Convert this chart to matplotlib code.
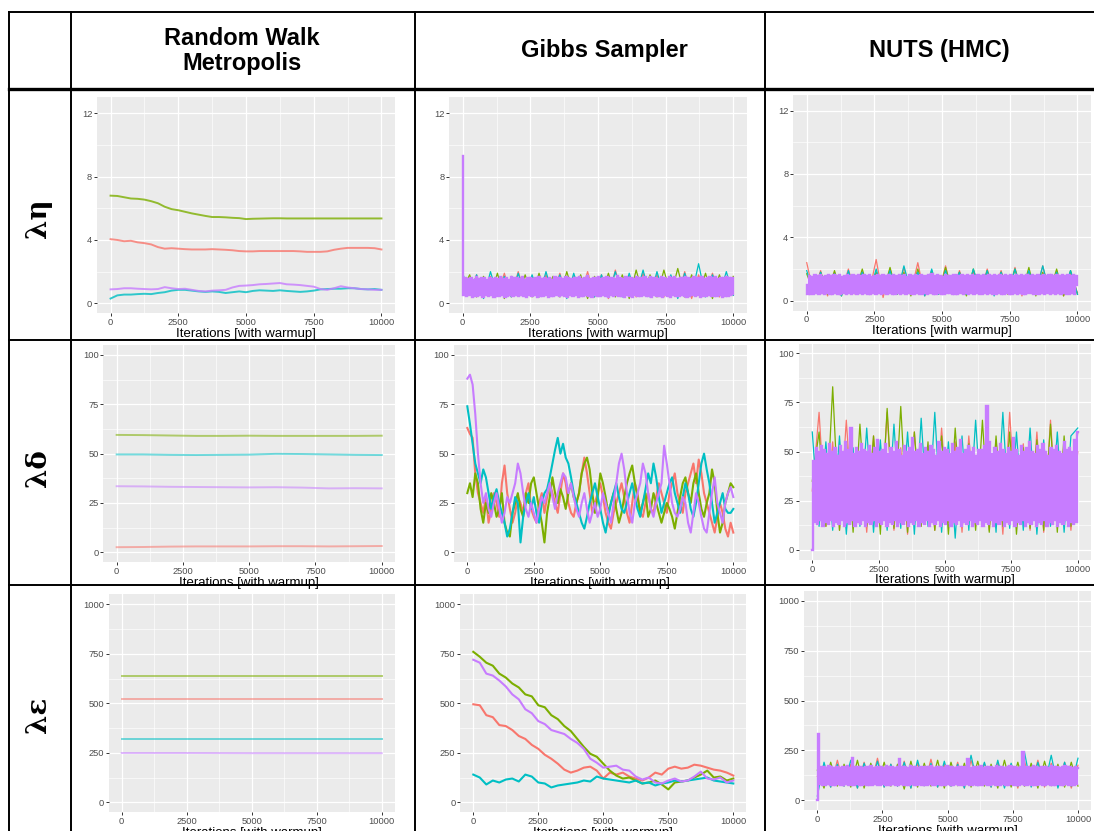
import numpy as np
import matplotlib.pyplot as plt
from matplotlib.lines import Line2D
from matplotlib.ticker import FixedLocator

plt.rcParams["font.family"] = ["Liberation Sans", "DejaVu Sans"]

# ===========================
# data
# ===========================
methods = ["Random Walk\nMetropolis", "Gibbs Sampler", "NUTS (HMC)"]
params = ["λη", "λδ", "λε"]
chain_colors = ["#F8766D", "#7CAE00", "#00BFC4", "#C77CFF"]
x_ticks = [0, 2500, 5000, 7500, 10000]
y_ticks = [[0, 4, 8, 12], [0, 25, 50, 75, 100], [0, 250, 500, 750, 1000]]
y_limits = [(-0.62, 13.02), (-5, 105), (-50, 1050)]

# --- lambda_eta, random walk metropolis (every 250 iterations)
rwm_eta_red = [4.05, 4.0, 3.92, 3.95, 3.85, 3.8, 3.72, 3.55, 3.45, 3.48, 3.45, 3.42, 3.4, 3.4,
               3.4, 3.42, 3.4, 3.38, 3.35, 3.3, 3.28, 3.28, 3.3, 3.3, 3.3, 3.3, 3.3, 3.3, 3.28,
               3.25, 3.25, 3.25, 3.28, 3.38, 3.45, 3.5, 3.5, 3.5, 3.5, 3.48, 3.4]
rwm_eta_green = [6.8, 6.78, 6.7, 6.62, 6.6, 6.55, 6.45, 6.32, 6.1, 5.95, 5.88, 5.78, 5.68, 5.6,
                 5.52, 5.45, 5.45, 5.43, 5.4, 5.38, 5.32, 5.34, 5.35, 5.36, 5.37, 5.37, 5.36,
                 5.36, 5.36, 5.36, 5.36, 5.36, 5.36, 5.36, 5.36, 5.36, 5.36, 5.36, 5.36, 5.36, 5.36]
rwm_eta_cyan = [0.3, 0.5, 0.55, 0.55, 0.58, 0.6, 0.58, 0.65, 0.7, 0.8, 0.85, 0.85, 0.8, 0.75,
                0.72, 0.75, 0.72, 0.65, 0.7, 0.75, 0.7, 0.78, 0.82, 0.8, 0.78, 0.82, 0.78, 0.75,
                0.72, 0.75, 0.8, 0.88, 0.9, 0.92, 0.92, 0.95, 0.95, 0.9, 0.88, 0.9, 0.85]
rwm_eta_purple = [0.88, 0.9, 0.95, 0.95, 0.92, 0.9, 0.88, 0.9, 1.02, 0.95, 0.9, 0.92, 0.85, 0.78,
                  0.75, 0.8, 0.82, 0.85, 1.0, 1.1, 1.12, 1.15, 1.2, 1.22, 1.25, 1.28, 1.2, 1.18,
                  1.15, 1.1, 1.05, 0.9, 0.85, 0.95, 1.08, 1.0, 0.95, 0.9, 0.88, 0.85, 0.85]

# --- lambda_eta, gibbs
gibbs_eta_red = [1.3, 0.5, 1.8, 0.4, 1.7, 0.5, 1.9, 0.4, 2.0, 0.5, 1.7, 0.4, 1.8, 0.5, 1.9, 0.4,
                 1.7, 0.5, 2.0, 0.4, 1.8, 0.3, 2.1, 0.5, 1.7, 0.4, 1.9, 0.5, 1.8, 0.4, 1.7, 0.5,
                 2.0, 0.3, 1.8, 0.5, 1.9, 0.4, 1.7, 0.5]
gibbs_eta_green = [0.9, 1.8, 0.4, 1.7, 0.5, 1.9, 0.3, 1.7, 0.5, 1.8, 0.4, 1.9, 0.5, 1.7, 0.4, 2.0,
                   0.5, 1.8, 0.3, 1.7, 0.5, 1.9, 0.4, 1.8, 0.3, 2.1, 0.5, 1.8, 0.4, 2.1, 0.5, 2.2,
                   0.4, 1.8, 0.5, 1.9, 0.3, 1.8, 0.5, 1.7]
gibbs_eta_cyan = [1.9, 0.5, 1.8, 0.3, 2.0, 0.5, 1.7, 0.4, 1.9, 0.5, 1.8, 0.4, 2.0, 0.5, 1.8, 0.3,
                  1.9, 0.5, 1.7, 0.4, 1.8, 0.5, 2.0, 0.4, 1.9, 0.5, 2.1, 0.4, 2.0, 0.5, 1.8, 0.3,
                  1.9, 0.5, 2.5, 0.4, 1.8, 0.5, 2.0, 0.5]
gibbs_eta_purple = [
    9.3, 0.5, 1.6, 0.45, 1.55, 0.5, 1.62, 0.42, 1.5, 0.48, 1.65, 0.45, 1.55, 0.5, 1.6, 0.4, 1.58, 0.52, 1.48, 0.45,
    1.62, 0.5, 1.55, 0.42, 1.6, 0.48, 1.52, 0.45, 1.66, 0.5, 1.55, 0.4, 1.6, 0.47, 1.5, 0.52, 1.63, 0.44, 1.57, 0.5,
    1.6, 0.43, 1.54, 0.5, 1.65, 0.46, 1.5, 0.4, 1.58, 0.5, 1.62, 0.45, 1.55, 0.52, 1.6, 0.42, 1.68, 0.48, 1.53, 0.45,
    1.6, 0.5, 1.56, 0.41, 1.62, 0.48, 1.5, 0.45, 1.64, 0.52, 1.57, 0.43, 1.6, 0.5, 1.55, 0.46, 1.66, 0.42, 1.58, 0.5,
    1.52, 0.45, 1.62, 0.5, 1.57, 0.4, 1.65, 0.48, 1.55, 0.44, 1.6, 0.52, 1.7, 0.45, 1.56, 0.42, 1.62, 0.5, 1.58, 0.46,
    1.64, 0.43, 1.55, 0.5, 1.6, 0.47, 1.68, 0.41, 1.57, 0.5, 1.62, 0.45, 1.55, 0.52, 1.7, 0.44, 1.6, 0.48, 1.56, 0.42,
    1.65, 0.5, 1.58, 0.45, 1.62, 0.4, 1.55, 0.5, 1.68, 0.46, 1.6, 0.43, 1.57, 0.52, 1.63, 0.45, 1.55, 0.48, 1.66, 0.42,
    1.58, 0.5, 1.62, 0.44, 1.55, 0.48, 1.67, 0.42, 1.6, 0.5, 1.56, 0.45, 1.63, 0.4, 1.58, 0.52, 1.65, 0.46, 1.55, 0.43,
    1.62, 0.5, 1.57, 0.45, 1.66, 0.41, 1.6, 0.48, 1.54, 0.5, 1.63, 0.44, 1.58, 0.52, 1.6, 0.42, 1.67, 0.47, 1.56, 0.45,
    1.6, 0.5, 1.63, 0.43, 1.57, 0.48, 1.65, 0.45, 1.55, 0.5, 1.62, 0.42, 1.58, 0.48, 1.66, 0.45, 1.6, 0.5, 1.57, 0.6]

# --- lambda_eta, NUTS
nuts_eta_red = [2.4, 0.4, 1.9, 0.3, 1.8, 0.5, 2.0, 0.4, 1.8, 0.5, 2.6, 0.2, 2.0, 0.4, 2.1, 0.5,
                2.4, 0.3, 1.8, 0.5, 2.2, 0.4, 1.9, 0.5, 1.8, 0.4, 2.0, 0.5, 1.9, 0.4, 2.1, 0.3,
                1.8, 0.5, 2.2, 0.4, 1.9, 0.3, 1.8, 0.5]
nuts_eta_green = [1.7, 0.5, 1.8, 0.4, 1.9, 0.3, 1.7, 0.5, 2.0, 0.4, 1.8, 0.5, 2.1, 0.4, 1.8, 0.3,
                  2.0, 0.5, 1.9, 0.4, 2.1, 0.5, 1.8, 0.3, 2.0, 0.4, 1.9, 0.5, 1.8, 0.4, 2.0, 0.5,
                  2.1, 0.3, 1.8, 0.5, 2.0, 0.3, 1.9, 0.4]
nuts_eta_cyan = [1.9, 0.4, 1.8, 0.5, 1.7, 0.3, 1.9, 0.5, 1.8, 0.4, 2.0, 0.5, 1.9, 0.4, 2.2, 0.5,
                 1.8, 0.3, 2.0, 0.4, 1.9, 0.5, 1.8, 0.4, 2.0, 0.5, 1.9, 0.3, 1.8, 0.5, 2.0, 0.4,
                 1.9, 0.5, 2.2, 0.4, 1.8, 0.5, 1.9, 0.4]
nuts_eta_purple = [
    1.0, 0.42, 1.58, 0.45, 1.52, 0.4, 1.6, 0.5, 1.55, 0.43, 1.62, 0.47, 1.5, 0.4, 1.57, 0.5, 1.6, 0.44, 1.54, 0.41,
    1.63, 0.48, 1.55, 0.4, 1.6, 0.45, 1.52, 0.5, 1.58, 0.42, 1.65, 0.46, 1.56, 0.4, 1.6, 0.5, 1.53, 0.43, 1.62, 0.47,
    1.57, 0.4, 1.6, 0.48, 1.55, 0.42, 1.64, 0.45, 1.52, 0.5, 1.58, 0.4, 1.61, 0.46, 1.55, 0.43, 1.6, 0.5, 1.56, 0.41,
    1.62, 0.47, 1.54, 0.4, 1.6, 0.45, 1.57, 0.5, 1.63, 0.42, 1.55, 0.46, 1.6, 0.4, 1.52, 0.48, 1.65, 0.43, 1.58, 0.4,
    1.6, 0.5, 1.55, 0.44, 1.62, 0.4, 1.57, 0.47, 1.53, 0.42, 1.6, 0.5, 1.66, 0.45, 1.55, 0.4, 1.6, 0.48, 1.57, 0.43,
    1.52, 0.4, 1.62, 0.46, 1.58, 0.5, 1.55, 0.42, 1.6, 0.45, 1.64, 0.4, 1.56, 0.48, 1.6, 0.43, 1.53, 0.5, 1.62, 0.41,
    1.58, 0.46, 1.6, 0.4, 1.55, 0.5, 1.63, 0.44, 1.57, 0.4, 1.6, 0.47, 1.54, 0.42, 1.65, 0.5, 1.58, 0.45, 1.6, 0.4,
    1.55, 0.48, 1.62, 0.43, 1.57, 0.4, 1.6, 0.5, 1.53, 0.45, 1.64, 0.41, 1.58, 0.47, 1.6, 0.42, 1.55, 0.5, 1.62, 0.44,
    1.57, 0.4, 1.6, 0.46, 1.54, 0.5, 1.63, 0.42, 1.58, 0.45, 1.6, 0.4, 1.56, 0.48, 1.62, 0.43, 1.55, 0.5, 1.6, 0.41,
    1.64, 0.46, 1.57, 0.4, 1.6, 0.5, 1.55, 0.43, 1.62, 0.47, 1.58, 0.4, 1.6, 0.45, 1.53, 0.5, 1.6, 0.42, 1.57, 1.0]

# --- lambda_delta, random walk metropolis (every 1000 iterations)
rwm_delta_red = [2.6, 2.7, 2.9, 3.0, 3.0, 3.0, 3.1, 3.1, 3.0, 3.1, 3.2]
rwm_delta_green = [59.5, 59.4, 59.2, 59.0, 59.0, 59.1, 59.0, 59.0, 59.0, 59.0, 59.1]
rwm_delta_cyan = [49.6, 49.6, 49.4, 49.3, 49.4, 49.5, 49.9, 49.8, 49.6, 49.4, 49.3]
rwm_delta_purple = [33.5, 33.4, 33.2, 33.1, 33.0, 32.9, 33.0, 32.8, 32.4, 32.5, 32.4]

# --- lambda_delta, gibbs (every 100 iterations)
gibbs_delta_red = [63, 60, 58, 40, 30, 25, 20, 28, 15, 22, 30, 25, 18, 35, 44, 30, 22, 15, 20, 28,
                   25, 20, 30, 35, 22, 18, 15, 25, 30, 20, 28, 35, 30, 25, 20, 30, 40, 35, 25, 20,
                   18, 25, 30, 40, 48, 40, 30, 20, 25, 30, 35, 28, 20, 15, 12, 20, 25, 30, 35, 28,
                   20, 15, 25, 35, 30, 20, 18, 25, 30, 22, 20, 28, 35, 30, 25, 20, 30, 35, 40, 30,
                   25, 20, 30, 35, 40, 45, 35, 47, 40, 30, 25, 20, 15, 10, 18, 25, 20, 12, 8, 15, 10]
gibbs_delta_green = [30, 35, 28, 40, 35, 22, 15, 25, 20, 30, 25, 18, 22, 30, 15, 10, 8, 20, 25, 30,
                     22, 18, 30, 25, 35, 38, 30, 22, 15, 5, 20, 28, 38, 30, 25, 32, 28, 22, 30, 35,
                     28, 25, 30, 40, 45, 48, 42, 30, 20, 28, 40, 35, 28, 20, 25, 30, 22, 15, 20, 28,
                     35, 40, 44, 35, 28, 20, 25, 30, 18, 22, 30, 25, 20, 15, 20, 25, 22, 18, 12, 20,
                     28, 35, 38, 30, 25, 35, 40, 30, 22, 18, 25, 30, 42, 35, 20, 10, 15, 25, 30, 35, 33]
gibbs_delta_cyan = [74, 65, 55, 45, 40, 35, 42, 38, 30, 22, 28, 32, 25, 20, 15, 8, 12, 20, 28, 25,
                    5, 18, 25, 30, 22, 28, 20, 15, 25, 30, 32, 38, 45, 52, 58, 50, 55, 48, 45, 38,
                    30, 25, 20, 15, 12, 18, 25, 30, 35, 28, 22, 15, 10, 18, 25, 30, 35, 28, 22, 20,
                    25, 30, 35, 28, 22, 18, 25, 32, 40, 35, 45, 38, 28, 20, 25, 30, 35, 38, 30, 25,
                    20, 28, 35, 30, 22, 18, 25, 35, 45, 50, 42, 35, 25, 15, 20, 25, 30, 22, 20, 20, 22]
gibbs_delta_purple = [88, 90, 85, 70, 50, 35, 25, 30, 22, 18, 25, 30, 22, 15, 20, 28, 25, 30, 35, 45,
                      40, 30, 22, 18, 25, 20, 15, 22, 28, 25, 30, 35, 28, 22, 30, 35, 40, 38, 30, 35,
                      28, 22, 18, 25, 30, 22, 15, 20, 25, 18, 22, 30, 25, 20, 15, 25, 35, 45, 50, 42,
                      30, 20, 15, 25, 30, 35, 45, 40, 30, 22, 18, 25, 30, 35, 54, 45, 35, 25, 20, 18,
                      22, 28, 25, 15, 10, 20, 30, 25, 18, 12, 10, 20, 30, 38, 25, 20, 15, 25, 30, 33, 28]

# --- lambda_delta, NUTS
nuts_delta_red = [30, 70, 12, 55, 10, 66, 14, 50, 9, 58, 12, 70, 10, 52, 8, 60, 12, 48, 10, 62,
                  14, 55, 9, 58, 12, 50, 10, 56, 8, 70, 12, 54, 10, 60, 9, 66, 12, 55, 10, 50]
nuts_delta_green = [35, 60, 12, 83, 10, 55, 9, 64, 12, 58, 8, 72, 11, 73, 9, 60, 12, 55, 10, 58,
                    8, 62, 12, 54, 10, 66, 9, 58, 12, 60, 8, 52, 11, 56, 10, 64, 9, 58, 12, 60]
nuts_delta_cyan = [60, 12, 55, 10, 58, 8, 52, 12, 62, 9, 56, 10, 64, 11, 60, 8, 67, 12, 70, 9,
                   55, 6, 58, 10, 66, 12, 54, 9, 70, 11, 60, 10, 62, 8, 56, 12, 60, 9, 58, 62]
nuts_delta_purple = [
    0, 45, 14, 52, 13, 50, 15, 53, 12, 51, 14, 49, 13, 54, 15, 50, 12, 52, 14, 48,
    13, 53, 15, 50, 12, 55, 14, 51, 13, 62, 15, 49, 12, 52, 14, 50, 13, 54, 15, 51,
    12, 50, 14, 53, 13, 49, 15, 52, 12, 56, 14, 50, 13, 51, 15, 54, 12, 49, 14, 52,
    13, 50, 15, 55, 12, 51, 14, 48, 13, 53, 15, 50, 12, 52, 14, 57, 13, 50, 15, 51,
    12, 54, 14, 49, 13, 52, 15, 50, 12, 53, 14, 51, 13, 48, 15, 55, 12, 50, 14, 52,
    13, 51, 15, 49, 12, 54, 14, 50, 13, 52, 15, 56, 12, 49, 14, 51, 13, 53, 15, 50,
    12, 52, 14, 48, 13, 51, 15, 51, 12, 53, 14, 73, 13, 55, 15, 49, 12, 52, 14, 50,
    13, 54, 15, 51, 12, 49, 14, 52, 13, 50, 15, 57, 12, 51, 14, 48, 13, 53, 15, 50,
    12, 52, 14, 55, 13, 50, 15, 49, 12, 53, 14, 51, 13, 54, 15, 50, 12, 48, 14, 52,
    13, 51, 15, 53, 12, 50, 14, 49, 13, 55, 15, 51, 12, 52, 14, 50, 13, 56, 14, 60]

# --- lambda_epsilon, random walk metropolis
rwm_eps_red = [520, 520, 520, 520, 520]
rwm_eps_green = [638, 638, 638, 638, 638]
rwm_eps_cyan = [318, 318, 318, 318, 318]
rwm_eps_purple = [249, 249, 248, 248, 248]

# --- lambda_epsilon, gibbs (every 250 iterations)
gibbs_eps_red = [495, 490, 440, 430, 390, 385, 365, 335, 320, 290, 270, 240, 220, 195, 165, 150,
                 160, 175, 180, 160, 120, 150, 140, 150, 130, 120, 110, 125, 150, 140, 170, 180,
                 170, 175, 190, 185, 175, 165, 160, 150, 135]
gibbs_eps_green = [760, 735, 705, 690, 650, 630, 600, 580, 545, 535, 490, 480, 440, 420, 385, 360,
                   320, 280, 245, 230, 195, 160, 135, 120, 125, 110, 95, 100, 110, 90, 65, 100,
                   105, 110, 125, 140, 160, 125, 130, 110, 120]
gibbs_eps_cyan = [140, 125, 90, 110, 100, 115, 120, 105, 140, 130, 100, 95, 75, 85, 90, 95, 100,
                  110, 105, 130, 120, 115, 110, 105, 100, 110, 95, 100, 85, 95, 100, 110, 105, 110,
                  115, 120, 125, 110, 105, 100, 95]
gibbs_eps_purple = [720, 705, 650, 640, 615, 585, 545, 520, 470, 450, 410, 395, 365, 355, 345, 320,
                    300, 270, 220, 200, 175, 180, 185, 165, 160, 130, 115, 125, 100, 95, 110, 120,
                    105, 110, 130, 155, 120, 115, 125, 100, 110]

# --- lambda_epsilon, NUTS
nuts_eps_red = [120, 175, 65, 200, 70, 180, 60, 190, 75, 210, 65, 180, 70, 195, 60, 185, 72, 205,
                65, 180, 70, 190, 60, 200, 75, 185, 65, 190, 70, 180, 60, 195, 70, 200, 65, 185,
                75, 190, 60, 175]
nuts_eps_green = [150, 60, 190, 70, 180, 65, 200, 60, 185, 75, 190, 70, 180, 55, 195, 65, 185, 70,
                  200, 60, 190, 72, 185, 65, 195, 70, 180, 60, 200, 65, 190, 70, 185, 60, 195, 72,
                  180, 65, 190, 70]
nuts_eps_cyan = [20, 190, 65, 180, 70, 200, 60, 185, 75, 195, 65, 180, 70, 190, 60, 200, 72, 185,
                 65, 195, 70, 180, 60, 225, 72, 190, 65, 200, 60, 185, 70, 240, 65, 190, 72, 225,
                 60, 190, 70, 210]
nuts_eps_purple = [
    0, 330, 80, 165, 78, 168, 75, 162, 80, 170, 76, 165, 78, 160, 75, 166, 80, 163, 77, 168,
    75, 165, 80, 170, 76, 162, 78, 210, 75, 168, 80, 164, 77, 166, 75, 163, 80, 168, 76, 165,
    78, 170, 75, 162, 80, 166, 77, 168, 75, 165, 80, 163, 76, 170, 78, 165, 75, 168, 80, 162,
    77, 166, 75, 205, 80, 165, 76, 168, 78, 163, 75, 170, 80, 165, 77, 168, 75, 162, 80, 166,
    76, 164, 78, 168, 75, 165, 80, 170, 77, 162, 75, 166, 80, 168, 76, 165, 78, 163, 75, 170,
    80, 165, 77, 168, 75, 162, 80, 166, 76, 164, 78, 168, 75, 165, 80, 205, 77, 162, 75, 166,
    80, 168, 76, 165, 78, 170, 75, 163, 80, 166, 77, 168, 75, 165, 80, 162, 76, 170, 78, 165,
    75, 168, 80, 163, 77, 166, 75, 170, 80, 165, 76, 168, 78, 162, 75, 166, 80, 240, 77, 165,
    75, 168, 80, 163, 76, 170, 78, 165, 75, 162, 80, 166, 77, 168, 75, 165, 80, 163, 76, 170,
    78, 165, 75, 168, 80, 162, 77, 166, 75, 170, 80, 165, 76, 168, 78, 163, 75, 166, 80, 160]

traces = [
    [[rwm_eta_red, rwm_eta_green, rwm_eta_cyan, rwm_eta_purple],
     [gibbs_eta_red, gibbs_eta_green, gibbs_eta_cyan, gibbs_eta_purple],
     [nuts_eta_red, nuts_eta_green, nuts_eta_cyan, nuts_eta_purple]],
    [[rwm_delta_red, rwm_delta_green, rwm_delta_cyan, rwm_delta_purple],
     [gibbs_delta_red, gibbs_delta_green, gibbs_delta_cyan, gibbs_delta_purple],
     [nuts_delta_red, nuts_delta_green, nuts_delta_cyan, nuts_delta_purple]],
    [[rwm_eps_red, rwm_eps_green, rwm_eps_cyan, rwm_eps_purple],
     [gibbs_eps_red, gibbs_eps_green, gibbs_eps_cyan, gibbs_eps_purple],
     [nuts_eps_red, nuts_eps_green, nuts_eps_cyan, nuts_eps_purple]],
]

# ===========================
# layout (pixel boxes: left, top, right, bottom)
# ===========================
W, H = 1094, 831
panel_boxes = [
    [(97, 97.2, 395, 313.1), (449.2, 97.2, 746.8, 313.1), (793.2, 94.5, 1091, 310.5)],
    [(103.4, 345.1, 395, 562.2), (454, 345.1, 746.6, 562.2), (799, 343.5, 1091, 559.8)],
    [(108.7, 594.4, 394.7, 812.2), (460.3, 594.4, 746.3, 812.2), (804.3, 591, 1091, 810)],
]
dense = {(0, 1), (0, 2), (1, 2), (2, 2)}

fig = plt.figure(figsize=(W / 100, H / 100), dpi=100)
fig.patch.set_facecolor("white")


def fx(x):
    return x / W


def fy(y):
    return 1 - y / H


for r in range(3):
    for c in range(3):
        left, top, right, bottom = panel_boxes[r][c]
        ax = fig.add_axes([fx(left), fy(bottom), (right - left) / W, (bottom - top) / H])
        ax.set_facecolor("#EBEBEB")
        for s in ax.spines.values():
            s.set_visible(False)

        for k, vals in enumerate(traces[r][c]):
            xs = np.linspace(0, 10000, len(vals))
            style = dict(color=chain_colors[k], solid_joinstyle="round")
            if c == 0:
                style.update(alpha=0.8 if r == 0 else 0.55, lw=1.4)
            elif (r, c) in dense:
                if k == 3:
                    # last chain is drawn on top and fills the middle of the band
                    style.update(lw=1.7, drawstyle="steps-mid", solid_joinstyle="miter")
                else:
                    style.update(lw=0.9)
            else:
                style.update(lw=1.5)
            ax.plot(xs, vals, **style)

        ax.set_xlim(-500, 10500)
        ax.set_ylim(*y_limits[r])
        yt = y_ticks[r]
        ax.xaxis.set_major_locator(FixedLocator(x_ticks))
        ax.yaxis.set_major_locator(FixedLocator(yt))
        ax.xaxis.set_minor_locator(FixedLocator([1250, 3750, 6250, 8750]))
        ax.yaxis.set_minor_locator(FixedLocator([(a + b) / 2 for a, b in zip(yt[:-1], yt[1:])]))
        ax.set_xticklabels([str(t) for t in x_ticks])
        ax.set_yticklabels([str(t) for t in yt])
        ax.grid(which="major", color="white", lw=0.9)
        ax.grid(which="minor", color="white", lw=0.45)
        ax.set_axisbelow(True)
        ax.tick_params(which="major", labelsize=6.7, labelcolor="#4D4D4D", color="#333333",
                       length=2, width=0.7, pad=1.5)
        ax.tick_params(which="minor", length=0)
        ax.set_xlabel("Iterations [with warmup]", fontsize=9.5, labelpad=0.5)


# ===========================
# table lines
# ===========================
def hline(y, lw=1.4):
    fig.add_artist(Line2D([fx(9), fx(W)], [fy(y), fy(y)], color="black", lw=lw))


def vline(x, lw=1.4):
    fig.add_artist(Line2D([fx(x), fx(x)], [fy(12), fy(H)], color="black", lw=lw))


hline(12)
hline(88.5, lw=2.4)
hline(340)
hline(585)
for xv in [9, 71, 415, 765]:
    vline(xv)

# header
header_x = [242, 604, 939]
for name, xc in zip(methods, header_x):
    fig.text(fx(xc), fy(51), name, ha="center", va="center", fontsize=17,
             fontweight="bold", linespacing=1.15)

# row labels
label_y = [218, 468, 715]
for name, yc in zip(params, label_y):
    fig.text(fx(39), fy(yc), name, ha="center", va="center", rotation=90,
             fontsize=20, fontweight="bold", family=["DejaVu Serif"])

fig.savefig("out.png", dpi=100)
